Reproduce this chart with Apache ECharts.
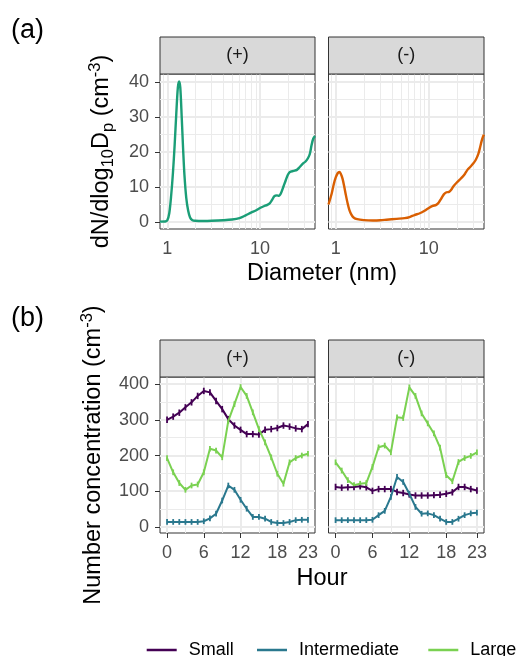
<!DOCTYPE html>
<html><head><meta charset="utf-8">
<script src="https://cdn.jsdelivr.net/npm/echarts@6/dist/echarts.min.js"></script>
<style>html,body{margin:0;padding:0;background:#fff}#c{width:520px;height:656px}</style>
</head><body><div id="c"></div>
<script>
// ---------- data ----------
const diam_plus = [0.834,0.95,1.0,1.05,1.1,1.15,1.2,1.25,1.3,1.34,1.38,1.43,1.48,1.53,1.6,1.68,1.76,1.85,2.0,2.5,3.0,4.0,5.0,6.0,7.0,8.0,9.0,10,11,12,12.8,13.5,14.3,15.2,16,17,18,19,20,21,23,25,27,29,31,33,34.5,36,37.5,39.2];
const conc_plus = [0.1,0.15,0.5,2.5,7.5,14,22,31,38.5,40.2,38.5,30,21,13.5,7,3.2,1.3,0.6,0.35,0.3,0.35,0.5,0.7,1.1,1.9,2.7,3.3,4.0,4.5,4.9,5.4,6.3,7.4,7.6,7.5,8.5,10.3,12,13.5,14.3,14.6,14.9,15.8,16.7,17.3,18.3,19.5,22,23.8,24.6];
const diam_minus = [0.834,0.9,0.95,1.0,1.05,1.09,1.13,1.18,1.23,1.28,1.34,1.4,1.47,1.55,1.7,2.0,2.5,3.0,3.5,4.5,5.5,6.2,7.0,8.0,9.0,10,11,12,12.8,13.6,14.5,15.5,16.5,17.5,18.5,20,21.5,23,24.5,26,28,30,32,34,35.5,37,38.5,39.2];
const conc_minus = [5.0,8.0,10.8,12.8,14.0,14.3,13.8,12.4,10.2,7.8,5.3,3.4,2.1,1.3,0.8,0.55,0.45,0.5,0.65,0.9,1.1,1.4,2.0,2.5,3.2,4.0,4.6,4.9,5.6,6.7,7.9,8.5,8.6,9.3,10.3,11.3,12.1,12.9,13.8,14.9,15.8,16.7,17.8,19.4,21.2,23.2,24.6,25.0];

const hours = [0,1,2,3,4,5,6,7,8,9,10,11,12,13,14,15,16,17,18,19,20,21,22,23];
const small_plus = [300,309,320,335,349,367,381,377,353,330,302,284,272,260,260,259,272,274,277,284,281,276,274,288];
const small_plus_err = [9,9,9,9,9,9,9,9,9,9,9,9,9,9,9,9,9,9,9,9,9,9,9,9];
const inter_plus = [14,14,14,14,14,14,16,24,37,74,116,104,76,51,28,28,23,14,11,11,14,19,20,20];
const inter_plus_err = [8,8,8,8,8,8,8,8,8,8,8,8,8,8,8,8,8,8,8,8,8,8,8,8];
const large_plus = [193,153,123,104,116,119,153,219,214,195,297,344,392,367,321,274,237,195,149,121,181,193,200,205];
const large_plus_err = [8,8,8,8,8,8,8,8,8,8,8,8,8,8,8,8,8,8,8,8,8,8,8,8];
const small_minus = [112,110,111,112,114,111,101,106,106,106,98,95,91,88,88,88,89,90,93,97,112,112,106,102];
const small_minus_err = [9,9,9,9,9,9,9,9,9,9,9,9,9,9,9,9,9,9,9,9,9,9,9,9];
const inter_minus = [19,19,19,19,19,19,20,33,45,84,140,126,93,56,37,38,33,23,14,14,23,33,38,40];
const inter_minus_err = [8,8,8,8,8,8,8,8,8,8,8,8,8,8,8,8,8,8,8,8,8,8,8,8];
const large_minus = [181,158,131,117,121,123,168,223,228,209,307,305,391,367,318,290,262,222,145,128,182,193,199,209];
const large_minus_err = [8,8,8,8,8,8,8,8,8,8,8,8,8,8,8,8,8,8,8,8,8,8,8,8];

const panel_labels = ['(+)', '(-)'];
const size_classes = ['Small', 'Intermediate', 'Large'];
const top_x_ticks = [1, 10];
const top_x_minor = [0.9, 2, 3, 4, 5, 6, 7, 8, 9, 20, 30];
const top_y_ticks = [0, 10, 20, 30, 40];
const top_y_minor = [5, 15, 25, 35];
const bot_x_ticks = [0, 6, 12, 18, 23];
const bot_x_minor = [3, 9, 15, 20.5];
const bot_y_ticks = [0, 100, 200, 300, 400];
const bot_y_minor = [50, 150, 250, 350];

// ---------- style ----------
const FONT = '"Liberation Sans", Arial, Helvetica, sans-serif';
const TITLE_SIZE = 23.5, TEXT_SIZE = 18, TAG_SIZE = 27;
const DIST_COLORS = ['#1B9E77', '#D95F02'];
const CLASS_COLORS = {Small: '#440154', Intermediate: '#2A788E', Large: '#7AD151'};
const GRIDS = [
  {left: 160, top: 74, width: 155, height: 155},
  {left: 328.5, top: 74, width: 155.5, height: 155},
  {left: 160, top: 377, width: 155, height: 156},
  {left: 328.5, top: 377, width: 155.5, height: 156}
];
const STRIP_H = 37;

function gridLines(xMaj, xMin, yMaj, yMin) {
  const mj = {color: '#EBEBEB', width: 2, type: 'solid', opacity: 1};
  const mn = {color: '#EBEBEB', width: 1, type: 'solid', opacity: 1};
  return {
    silent: true, symbol: ['none', 'none'], label: {show: false}, animation: false, z: 1,
    emphasis: {disabled: true},
    data: [].concat(
      xMin.map(v => ({xAxis: v, lineStyle: mn})),
      yMin.map(v => ({yAxis: v, lineStyle: mn})),
      xMaj.map(v => ({xAxis: v, lineStyle: mj})),
      yMaj.map(v => ({yAxis: v, lineStyle: mj}))
    )
  };
}

const tickStyle = {length: 5, lineStyle: {color: '#333333', width: 1}};
const labelStyle = {color: '#4D4D4D', fontSize: TEXT_SIZE, fontFamily: FONT};

function xLog(gi) {
  return {type: 'log', logBase: 10, gridIndex: gi, min: 0.834, max: 39.2,
    axisLine: {show: false}, splitLine: {show: false},
    axisTick: Object.assign({show: true, customValues: top_x_ticks}, tickStyle),
    axisLabel: Object.assign({customValues: top_x_ticks, margin: 11}, labelStyle)};
}
function yTop(gi, show) {
  return {type: 'value', gridIndex: gi, min: -2.0, max: 42.3,
    axisLine: {show: false}, splitLine: {show: false},
    axisTick: Object.assign({show: show, customValues: top_y_ticks}, tickStyle),
    axisLabel: Object.assign({show: show, customValues: top_y_ticks, margin: 11}, labelStyle)};
}
function xHour(gi) {
  return {type: 'value', gridIndex: gi, min: -1.15, max: 24.15,
    axisLine: {show: false, onZero: false}, splitLine: {show: false},
    axisTick: Object.assign({show: true, customValues: bot_x_ticks}, tickStyle),
    axisLabel: Object.assign({customValues: bot_x_ticks, margin: 11}, labelStyle)};
}
function yBot(gi, show) {
  return {type: 'value', gridIndex: gi, min: -17, max: 420,
    axisLine: {show: false, onZero: false}, splitLine: {show: false},
    axisTick: Object.assign({show: show, customValues: bot_y_ticks}, tickStyle),
    axisLabel: Object.assign({show: show, customValues: bot_y_ticks, margin: 11}, labelStyle)};
}

const series = [];
// size distributions
[[diam_plus, conc_plus], [diam_minus, conc_minus]].forEach((pair, k) => {
  series.push({
    name: 'dist' + k, type: 'line', xAxisIndex: k, yAxisIndex: k,
    data: pair[0].map((d, i) => [d, pair[1][i]]),
    showSymbol: false, smooth: 0.3, z: 3,
    lineStyle: {color: DIST_COLORS[k], width: 2.4},
    itemStyle: {color: DIST_COLORS[k]},
    markLine: gridLines(top_x_ticks, top_x_minor, top_y_ticks, top_y_minor)
  });
});

function errRender(color) {
  return function (params, api) {
    const x = api.value(0);
    const a = api.coord([x, api.value(1)]);
    const b = api.coord([x, api.value(2)]);
    return {type: 'line', shape: {x1: a[0], y1: a[1], x2: b[0], y2: b[1]},
      style: {stroke: color, lineWidth: 1.8}};
  };
}

const diurnal = [
  [[small_plus, small_plus_err], [inter_plus, inter_plus_err], [large_plus, large_plus_err]],
  [[small_minus, small_minus_err], [inter_minus, inter_minus_err], [large_minus, large_minus_err]]
];
diurnal.forEach((panel, p) => {
  const ax = 2 + p;
  panel.forEach((pair, c) => {
    const name = size_classes[c];
    const col = CLASS_COLORS[name];
    const s = {
      name: name, type: 'line', xAxisIndex: ax, yAxisIndex: ax,
      data: hours.map((h, i) => [h, pair[0][i]]),
      showSymbol: false, z: 3,
      lineStyle: {color: col, width: 2}, itemStyle: {color: col}
    };
    if (c === 0) s.markLine = gridLines(bot_x_ticks, bot_x_minor, bot_y_ticks, bot_y_minor);
    series.push(s);
    series.push({
      name: name + ' err ' + p, type: 'custom', xAxisIndex: ax, yAxisIndex: ax, z: 3,
      data: hours.map((h, i) => [h, pair[0][i] - pair[1][i], pair[0][i] + pair[1][i]]),
      encode: {x: 0, y: [1, 2]},
      renderItem: errRender(col), silent: true
    });
  });
});

// ---------- graphics: strips, titles, tags ----------
const graphic = [];
GRIDS.forEach((g, i) => {
  graphic.push({type: 'rect', silent: true, z: 10,
    shape: {x: g.left, y: g.top - STRIP_H, width: g.width, height: STRIP_H},
    style: {fill: '#D9D9D9', stroke: '#333333', lineWidth: 1}});
  graphic.push({type: 'text', silent: true, z: 11, x: g.left + g.width / 2, y: g.top - STRIP_H / 2,
    style: {text: panel_labels[i % 2], fill: '#1A1A1A', fontSize: TEXT_SIZE, fontFamily: FONT,
      align: 'center', verticalAlign: 'middle'}});
});
const richT = {
  m: {fontSize: TITLE_SIZE, fontFamily: FONT, fill: '#000', lineHeight: 30},
  s: {fontSize: 16.5, fontFamily: FONT, fill: '#000', lineHeight: 16, verticalAlign: 'bottom'},
  u: {fontSize: 16.5, fontFamily: FONT, fill: '#000', lineHeight: 16, verticalAlign: 'top'}
};
graphic.push({type: 'text', silent: true, x: 102, y: 151.5, rotation: Math.PI / 2,
  style: {text: '{m|dN/dlog}{s|10}{m|D}{s|p}{m| (cm}{u|-3}{m|)}', rich: richT,
    fontSize: TITLE_SIZE, fontFamily: FONT, align: 'center', verticalAlign: 'middle'}});
graphic.push({type: 'text', silent: true, x: 93.5, y: 455, rotation: Math.PI / 2,
  style: {text: '{m|Number concentration (cm}{u|-3}{m|)}', rich: richT,
    fontSize: TITLE_SIZE, fontFamily: FONT, align: 'center', verticalAlign: 'middle'}});
graphic.push({type: 'text', silent: true, x: 322, y: 274,
  style: {text: 'Diameter (nm)', fill: '#000', fontSize: TITLE_SIZE, fontFamily: FONT, align: 'center', verticalAlign: 'middle'}});
graphic.push({type: 'text', silent: true, x: 322, y: 579,
  style: {text: 'Hour', fill: '#000', fontSize: TITLE_SIZE, fontFamily: FONT, align: 'center', verticalAlign: 'middle'}});
graphic.push({type: 'text', silent: true, x: 11, y: 31,
  style: {text: '(a)', fill: '#000', fontSize: TAG_SIZE, fontFamily: FONT, align: 'left', verticalAlign: 'middle'}});
graphic.push({type: 'text', silent: true, x: 11, y: 319,
  style: {text: '(b)', fill: '#000', fontSize: TAG_SIZE, fontFamily: FONT, align: 'left', verticalAlign: 'middle'}});

const legendLefts = [141.7, 252, 423.3];
const legend = size_classes.map((n, i) => ({
  data: [n], left: legendLefts[i], top: 636, icon: 'rect', itemWidth: 30, itemHeight: 2.5,
  itemGap: 0, selectedMode: false,
  textStyle: {fontSize: TEXT_SIZE, color: '#000', fontFamily: FONT, padding: [0, 0, 0, 7]}
}));

const option = {
  animation: false,
  backgroundColor: '#ffffff',
  grid: GRIDS.map(g => Object.assign({show: true, backgroundColor: '#fff', borderColor: '#333333', borderWidth: 1, containLabel: false}, g)),
  xAxis: [xLog(0), xLog(1), xHour(2), xHour(3)],
  yAxis: [yTop(0, true), yTop(1, false), yBot(2, true), yBot(3, false)],
  legend: legend,
  series: series,
  graphic: graphic
};
const chart = echarts.init(document.getElementById('c'), null, {renderer: 'canvas'});
chart.setOption(option);
</script></body></html>
